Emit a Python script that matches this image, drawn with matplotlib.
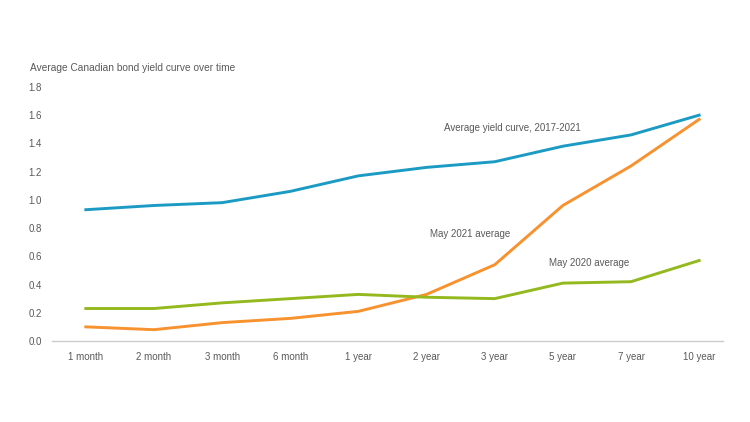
import matplotlib
matplotlib.use('Agg')
import matplotlib.pyplot as plt

terms = ['1 month', '2 month', '3 month', '6 month', '1 year', '2 year',
         '3 year', '5 year', '7 year', '10 year']
avg_2017_2021 = [0.93, 0.96, 0.98, 1.06, 1.17, 1.23, 1.27, 1.38, 1.46, 1.60]
may_2021 = [0.10, 0.08, 0.13, 0.16, 0.21, 0.33, 0.54, 0.96, 1.24, 1.57]
may_2020 = [0.23, 0.23, 0.27, 0.30, 0.33, 0.31, 0.30, 0.41, 0.42, 0.57]
yticks = [0.0, 0.2, 0.4, 0.6, 0.8, 1.0, 1.2, 1.4, 1.6, 1.8]

plt.rcParams['font.family'] = ['Liberation Sans', 'DejaVu Sans']
text_color = '#595959'

fig = plt.figure(figsize=(7.5, 4.22), dpi=100)
ax = fig.add_axes([0.069, 0.192, 0.895, 0.602])

x = list(range(len(terms)))
ax.plot(x, avg_2017_2021, color='#1b9bc4', lw=2.1)
ax.plot(x, may_2021, color='#f7922f', lw=2.1)
ax.plot(x, may_2020, color='#93b91e', lw=2.1)

ax.set_xlim(-0.5, 9.35)
ax.set_ylim(0, 1.8)
ax.set_xticks(x)
ax.set_xticklabels(terms)
ax.set_yticks(yticks)
ax.set_yticklabels(['%.1f' % v for v in yticks])
ax.tick_params(axis='both', length=0, labelsize=7, colors=text_color)
ax.tick_params(axis='x', pad=8)
ax.tick_params(axis='y', pad=17)
for lab in ax.get_yticklabels():
    lab.set_horizontalalignment('left')

for s in ['top', 'right', 'left']:
    ax.spines[s].set_visible(False)
ax.spines['bottom'].set_color('#cccccc')
ax.spines['bottom'].set_linewidth(1)

fig.text(30 / 750, 1 - 68 / 422, 'Average Canadian bond yield curve over time',
         fontsize=7.3, color=text_color, va='center', ha='left')

ax.text(5.25, 1.49, 'Average yield curve, 2017-2021', fontsize=7, color=text_color)
ax.text(5.05, 0.74, 'May 2021 average', fontsize=7, color=text_color)
ax.text(6.8, 0.53, 'May 2020 average', fontsize=7, color=text_color)

fig.savefig('out.png', dpi=100)
